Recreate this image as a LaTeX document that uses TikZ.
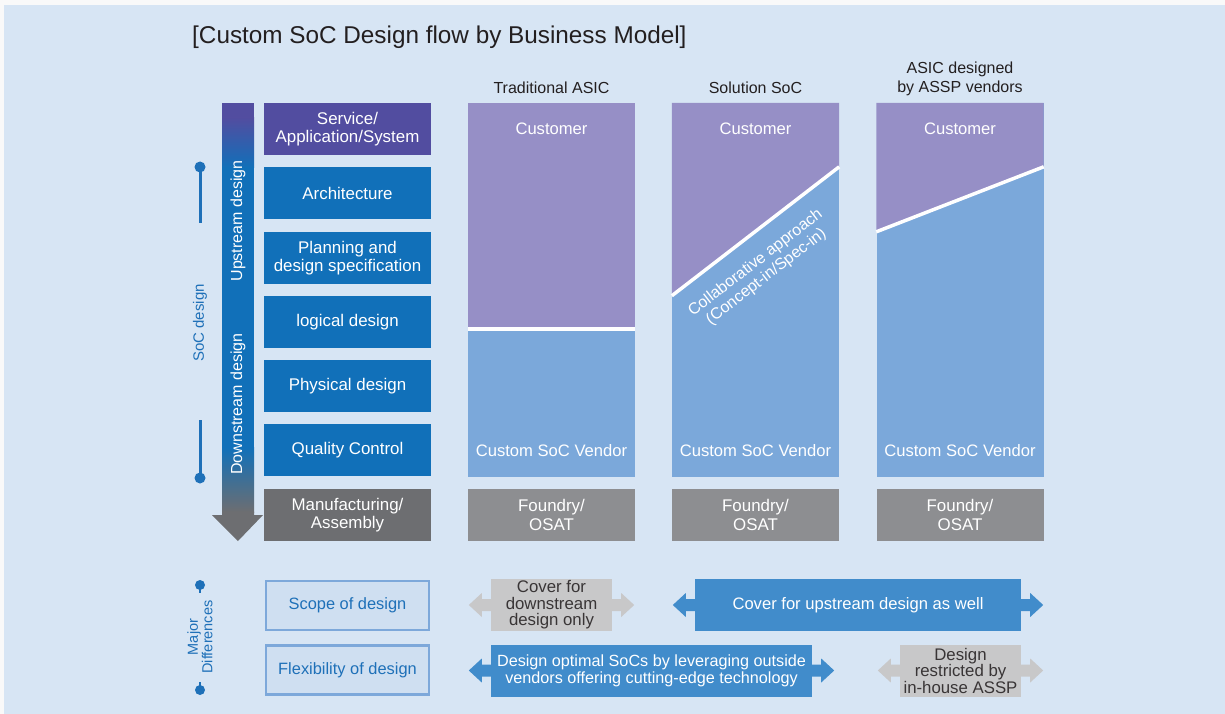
\documentclass[tikz,border=0pt]{standalone}
\usepackage{fontspec}
\setmainfont{Liberation Sans}
\usetikzlibrary{calc}

\definecolor{pagebg}{HTML}{D7E5F4}
\definecolor{svcpurple}{HTML}{524DA0}
\definecolor{stageblue}{HTML}{1170B9}
\definecolor{mfggray}{HTML}{6D6E71}
\definecolor{custpurple}{HTML}{968FC6}
\definecolor{vendblue}{HTML}{7BA8DA}
\definecolor{foundgray}{HTML}{8D8E91}
\definecolor{darktext}{HTML}{231F20}
\definecolor{accent}{HTML}{1E70B8}
\definecolor{scopefill}{HTML}{CFDFF1}
\definecolor{scopeline}{HTML}{7DA8DA}
\definecolor{arrblue}{HTML}{418CCB}
\definecolor{arrgray}{HTML}{C8C8C9}

% side heads of a two-way arrow box
\newcommand\twoway[2]{%
  \fill[#2] ($(#1.west)+(-22,0)$) -- ($(#1.west)+(-9,-12)$) -- ($(#1.west)+(-9,-6)$) -- ($(#1.west)+(1,-6)$) -- ($(#1.west)+(1,6)$) -- ($(#1.west)+(-9,6)$) -- ($(#1.west)+(-9,12)$) -- cycle;
  \fill[#2] ($(#1.east)+(22,0)$) -- ($(#1.east)+(9,-12)$) -- ($(#1.east)+(9,-6)$) -- ($(#1.east)+(-1,-6)$) -- ($(#1.east)+(-1,6)$) -- ($(#1.east)+(9,6)$) -- ($(#1.east)+(9,12)$) -- cycle;}

\tikzset{
  txt/.style={font=\fontsize{16}{18.5}\selectfont},
  bigtxt/.style={font=\fontsize{16.9}{18.5}\selectfont},
  stagebox/.style={bigtxt, minimum width=167pt, minimum height=52pt, inner sep=0pt, align=center, text=white},
  colbox/.style={minimum width=167pt, minimum height=374pt, inner sep=0pt, fill=vendblue},
  foundbox/.style={stagebox, fill=foundgray},
  head/.style={txt, text=darktext, align=center},
  lbl/.style={font=\fontsize{16.6}{18.5}\selectfont, text=white, align=center},
  divider/.style={white, line width=3.5pt},
  rangeline/.style={accent, line width=3pt},
  dot/.style={fill=accent},
  diffbox/.style={font=\fontsize{16.4}{18.5}\selectfont, minimum width=163pt, minimum height=49pt, inner sep=0pt, fill=scopefill, draw=scopeline, line width=2.5pt, text=accent},
  bluearrow/.style={font=\fontsize{16.6}{18.5}\selectfont, inner sep=0pt, fill=arrblue, text=white, align=center, minimum height=52pt},
  grayarrow/.style={font=\fontsize{16.8}{16.5}\selectfont, inner sep=0pt, fill=arrgray, text=darktext!90, align=center, minimum height=52pt, minimum width=121pt},
}

\begin{document}
\begin{tikzpicture}[x=1pt, y=-1pt]
  \useasboundingbox (0,0) rectangle (1225,714);
  \fill[white!95!gray] (0,0) rectangle (1225,714);
  \fill[pagebg] (4,5) rectangle (1225,714);

  % title
  \node[anchor=west, inner sep=0pt, text=darktext, font=\fontsize{24.3}{26}\selectfont] (title) at (192,37) {[Custom SoC Design flow by Business Model]};

  % design flow arrow: purple top fading to blue, blue body, fading to grey tip
  \fill[svcpurple] (222,103) rectangle (254,118);
  \shade[top color=svcpurple, bottom color=stageblue] (222,117.5) rectangle (254,168);
  \fill[stageblue] (222,167.5) rectangle (254,448);
  \shade[top color=stageblue, bottom color=mfggray] (222,447.5) rectangle (254,512);
  \fill[mfggray] (222,511.5) -- (254,511.5) -- (254,515) -- (263,515) -- (238,541) -- (212,515) -- (222,515) -- cycle;
  \node[rotate=90, txt, text=white] (up) at (238,221) {Upstream design};
  \node[rotate=90, txt, text=white] (down) at (238,404) {Downstream design};

  % SoC design range marker
  \node[rotate=90, font=\fontsize{15}{17}\selectfont, text=accent] (soc) at (200,323) {SoC design};
  \coordinate (socTop) at (200,167);
  \coordinate (socBot) at (200,478);
  \draw[rangeline] (socTop) -- ++(0,56);
  \draw[rangeline] (socBot) -- ++(0,-58);
  \fill[dot] (socTop) circle (5.5);
  \fill[dot] (socBot) circle (5.5);

  % stages
  \node[stagebox, fill=svcpurple] (svc)  at (347.5,129) {Service/\\Application/System};
  \node[stagebox, fill=stageblue] (arch) at (347.5,193) {Architecture};
  \node[stagebox, fill=stageblue] (plan) at (347.5,258) {Planning and\\design specification};
  \node[stagebox, fill=stageblue] (logi) at (347.5,322) {logical design};
  \node[stagebox, fill=stageblue] (phys) at (347.5,386) {Physical design};
  \node[stagebox, fill=stageblue] (qc)   at (347.5,450) {Quality Control};
  \node[stagebox, fill=mfggray]   (mfg)  at (347.5,515) {Manufacturing/\\Assembly};

  % column headers
  \node[head] (hA) at (551.5,88) {Traditional ASIC};
  \node[head] (hB) at (755.5,88) {Solution SoC};
  \node[head] (hC) at (960,79) {ASIC designed\\by ASSP vendors};

  % columns
  \node[colbox] (colA) at (551.5,290) {};
  \node[colbox] (colB) at (755.5,290) {};
  \node[colbox] (colC) at (960,290) {};

  \fill[custpurple] (colA.north west) -- (colA.north east) -- ($(colA.north east)+(0,226)$) -- ($(colA.north west)+(0,226)$) -- cycle;
  \draw[divider] ($(colA.north west)+(0,226)$) -- ($(colA.north east)+(0,226)$);

  \fill[custpurple] (colB.north west) -- (colB.north east) -- ($(colB.north east)+(0,64)$) -- ($(colB.north west)+(0,193)$) -- cycle;
  \draw[divider] ($(colB.north west)+(0,193)$) -- ($(colB.north east)+(0,64)$);

  \fill[custpurple] (colC.north west) -- (colC.north east) -- ($(colC.north east)+(0,64)$) -- ($(colC.north west)+(0,129)$) -- cycle;
  \draw[divider] ($(colC.north west)+(0,129)$) -- ($(colC.north east)+(0,64)$);

  \foreach \c in {A,B,C}{
    \node[lbl] (cust\c) at ($(col\c.north)+(0,26)$) {Customer};
    \node[lbl] (vend\c) at ($(col\c.south)+(0,-27)$) {Custom SoC Vendor};
  }
  \node[lbl, rotate=37.7, font=\fontsize{16}{17.5}\selectfont] (collab) at (761,270) {Collaborative approach\\(Concept-in/Spec-in)};

  \node[foundbox] (fA) at (551.5,515) {Foundry/\\OSAT};
  \node[foundbox] (fB) at (755.5,515) {Foundry/\\OSAT};
  \node[foundbox] (fC) at (960,515) {Foundry/\\OSAT};

  % major differences
  \node[rotate=90, align=center, text=accent, font=\fontsize{14.5}{13}\selectfont] (major) at (200,637) {Major\\Differences};
  \coordinate (mdTop) at (200,585);
  \coordinate (mdBot) at (200,690);
  \draw[accent, line width=2.5pt] (mdTop) -- ++(0,8);
  \draw[accent, line width=2.5pt] (mdBot) -- ++(0,-8);
  \fill[dot] (mdTop) circle (5);
  \fill[dot] (mdBot) circle (5);

  \node[diffbox] (scope) at (347.5,605.5) {Scope of design};
  \node[diffbox] (flex)  at (347.5,670)   {Flexibility of design};

  \node[grayarrow] (down1) at (551.5,605) {Cover for\\downstream\\design only};
  \twoway{down1}{arrgray}
  \node[bluearrow, minimum width=326pt] (up1) at (858,605) {Cover for upstream design as well};
  \twoway{up1}{arrblue}
  \node[bluearrow, minimum width=321pt, font=\fontsize{16.2}{17}\selectfont] (opt) at (651.5,670.5) {Design optimal SoCs by leveraging outside\\vendors offering cutting-edge technology};
  \twoway{opt}{arrblue}
  \node[grayarrow] (restr) at (960.5,670.5) {Design\\restricted by\\in-house ASSP};
  \twoway{restr}{arrgray}
\end{tikzpicture}
\end{document}
